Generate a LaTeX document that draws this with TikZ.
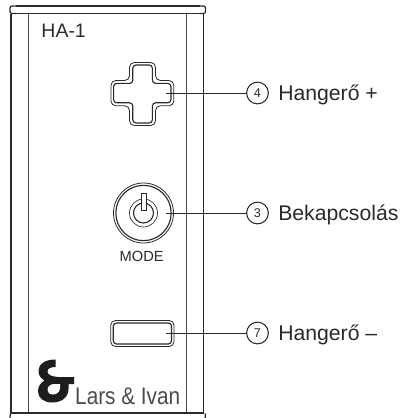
\documentclass[tikz,border=0pt]{standalone}
\usepackage{fontspec}
\setmainfont{Liberation Sans}
\usepackage{tikz}
\definecolor{ink}{HTML}{2A2A2A}
\tikzset{
  panel/.style={draw=ink,line width=0.9pt},
  panelthin/.style={draw=ink!85,line width=0.65pt},
  lead/.style={draw=ink,line width=0.6pt},
  callout/.style={circle,draw=ink,line width=0.8pt,minimum size=16.3pt,inner sep=0pt,font=\fontsize{9.5}{9.5}\selectfont,text=ink},
  label/.style={anchor=base west,inner sep=0pt,font=\fontsize{15.9}{15.9}\selectfont,text=ink},
  ctrl/.style={draw=ink,line join=round},
}
\begin{document}
\begin{tikzpicture}[x=0.75pt,y=-0.75pt]
\useasboundingbox (0,0) rectangle (401,418);
% body
\draw[panel] (11,13.5) -- (11,413);
\draw[panelthin] (28.3,13.5) -- (28.3,413);
\draw[panelthin] (186.4,13.5) -- (186.4,413);
\draw[panel] (203.5,13.5) -- (203.5,413);
\draw[panel,rounded corners=1.5pt] (16,6) -- (10,6) -- (10,13.5) -- (16,13.5);
\draw[panel,rounded corners=1.5pt] (200,6) -- (205.5,6) -- (205.5,13.5) -- (200,13.5);
\draw[panel] (16,6) -- (200,6) (16,13.5) -- (200,13.5);
\draw[panel,line width=1.2pt] (10,412.7) -- (204,412.7);
\draw[panel] (10,418.5) -- (10.4,413.4);
\draw[panel] (205.3,418.5) -- (205.2,413.4);
% cross
\draw[ctrl,line width=0.6pt,rounded corners=3.6pt] (129.5,62.5) -- (155.5,62.5) -- (155.5,80.5) -- (173.8,80.5) -- (173.8,105.8) -- (155.5,105.8) -- (155.5,125.5) -- (129.5,125.5) -- (129.5,105.8) -- (111,105.8) -- (111,80.5) -- (129.5,80.5) -- cycle;
\draw[ctrl,line width=0.85pt,rounded corners=2.4pt] (132.8,65) -- (152.4,65) -- (152.4,83.4) -- (171,83.4) -- (171,102.8) -- (152.4,102.8) -- (152.4,123) -- (132.8,123) -- (132.8,102.8) -- (113.6,102.8) -- (113.6,83.4) -- (132.8,83.4) -- cycle;
% power button
\node[circle,draw=ink,line width=0.6pt,minimum size=45pt,inner sep=0pt] (btnout) at (143.5,213) {};
\node[circle,draw=ink,line width=0.85pt,minimum size=41.5pt,inner sep=0pt] (btn) at (143.5,213) {};
\node[circle,draw=ink,line width=0.5pt,minimum size=21pt,inner sep=0pt] (pwa) at (143.5,213) {};
\node[circle,draw=ink,line width=0.85pt,minimum size=15pt,inner sep=0pt] (pwb) at (143.5,213) {};
\fill[white] (141,192.5) rectangle (146.5,210.5);
\node[draw=ink,line width=0.6pt,fill=white,minimum width=3.6pt,minimum height=13pt,inner sep=0pt] (pwbar) at (143.7,202) {};
% slot
\draw[ctrl,line width=0.6pt,rounded corners=3.6pt] (110.7,320.5) rectangle (174,346.5);
\draw[ctrl,line width=0.85pt,rounded corners=2.4pt] (113.3,323) rectangle (171.5,344);
% texts
\node[anchor=base west,inner sep=0pt,font=\fontsize{14.6}{14.6}\selectfont,text=ink] (ha) at (41.2,37.5) {HA-1};
\node[anchor=base,inner sep=0pt,font=\fontsize{11}{11}\selectfont,text=ink] (mode) at (141.7,261.5) {MODE};
% logo
\node[anchor=base west,inner sep=0pt,font=\fontsize{18}{18}\selectfont,text=ink!85,xscale=0.865,transform shape] (brand) at (75,404) {Lars \& Ivan};
\fill[ink!70!black] (55.5,359.5) .. controls (45,359.5) and (38.5,364) .. (38.5,371) .. controls (38.5,375.5) and (41,378.5) .. (44.5,380.5) .. controls (40,383) and (38,387) .. (38,391.5) .. controls (38,398) and (44,402.5) .. (52,402.5) .. controls (62,402.5) and (68.5,397) .. (68.5,389) -- (68.5,384) -- (74,384) -- (74,377) -- (58,377) .. controls (51,376.5) and (47.5,374.5) .. (47.5,371.5) .. controls (47.5,368.5) and (50.5,367) .. (55.5,367) -- cycle;
\fill[white] (60,384) -- (60,388) .. controls (60,392) and (56.5,394.5) .. (53,394.5) .. controls (49.5,394.5) and (47.5,392.5) .. (47.5,390) .. controls (47.5,386.5) and (50.5,384) .. (54,384) -- cycle;
% callouts
\node[callout] (c4) at (257.5,93) {4};
\node[callout] (c3) at (257.5,213) {3};
\node[callout] (c7) at (257.5,333) {7};
\coordinate (a4) at (166,93);
\coordinate (a3) at (166,213);
\coordinate (a7) at (166,333);
\draw[lead] (a4) -- (c4);
\draw[lead] (a3) -- (c3);
\draw[lead] (a7) -- (c7);
\node[label] (t4) at (278,100.3) {Hangerő +};
\node[label] (t3) at (278,220.3) {Bekapcsolás};
\node[label] (t7) at (278,340.3) {Hangerő –};
\end{tikzpicture}
\end{document}
